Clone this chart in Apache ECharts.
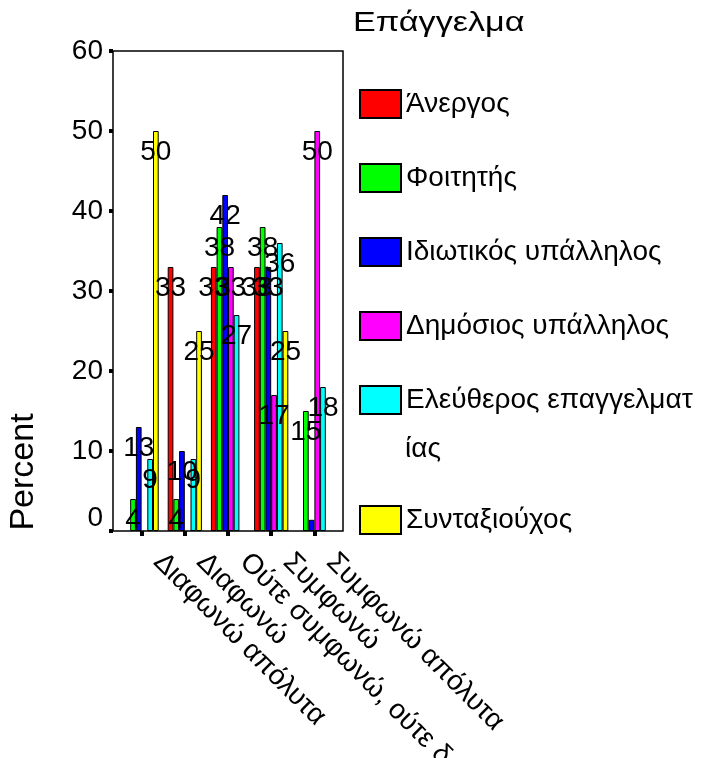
<!DOCTYPE html>
<html>
<head>
<meta charset="utf-8">
<script src="https://cdn.jsdelivr.net/npm/echarts@6/dist/echarts.min.js"></script>
<style>
  html, body { margin: 0; padding: 0; background: #fff; }
  #chart { width: 702px; height: 758px; }
</style>
</head>
<body>
<div id="chart"></div>
<script>
// Answer categories (x axis)
const categories = ['Διαφωνώ απόλυτα', 'Διαφωνώ', 'Ούτε συμφωνώ, ούτε δ', 'Συμφωνώ', 'Συμφωνώ απόλυτα'];

// Occupation groups (legend) and their percentages per category
const occupations = ['Άνεργος', 'Φοιτητής', 'Ιδιωτικός υπάλληλος', 'Δημόσιος υπάλληλος', 'Ελεύθερος επαγγελματίας', 'Συνταξιούχος'];
const anergos    = [null, 33, 33, 33, null];
const foititis   = [4, 4, 38, 38, 15];
const idiotikos  = [13, 10, 42, 33, 1.4];
const dimosios   = [null, null, 33, 17, 50];
const eleftheros = [9, 9, 27, 36, 18];
const syntaxiou  = [50, 25, null, 25, null];
const seriesValues = [anergos, foititis, idiotikos, dimosios, eleftheros, syntaxiou];

// Points whose value label is not printed: [series index, category index]
const unlabeled = [[2, 4]];

// Y axis scale
const yMin = 0, yMax = 60, yStep = 10;

const colors = ['#ff0000', '#00ff00', '#0000ff', '#ff00ff', '#00ffff', '#ffff00'];
const FONT = '"Liberation Sans", Arial, sans-serif';
const LEGEND_FONT = '28px ' + FONT;

// Legend text area: from the text start to near the right edge of the canvas
const LEGEND_LEFT = 359, SWATCH_W = 41, LEGEND_TEXT_X = LEGEND_LEFT + SWATCH_W + 5;
const LEGEND_TEXT_W = 702 - LEGEND_TEXT_X - 7;

// Character-level wrapping of a legend label into lines that fit the text area
function wrapChars(text, font, maxW) {
  const ctx = document.createElement('canvas').getContext('2d');
  ctx.font = font;
  const lines = [];
  let line = '';
  for (const ch of text) {
    if (line && ctx.measureText(line + ch).width > maxW) {
      lines.push(line);
      line = ch;
    } else {
      line += ch;
    }
  }
  if (line) lines.push(line);
  return lines;
}

const wrapped = {};
occupations.forEach(function (n) { wrapped[n] = wrapChars(n, LEGEND_FONT, LEGEND_TEXT_W); });

const series = seriesValues.map(function (vals, si) {
  return {
    name: occupations[si],
    type: 'bar',
    xAxisIndex: 0,
    yAxisIndex: 0,
    barWidth: 5.7,
    barGap: '0%',
    itemStyle: { color: colors[si], borderColor: '#000', borderWidth: 1 },
    label: {
      show: true,
      position: 'insideTop',
      distance: 7,
      color: '#000',
      fontSize: 28,
      fontFamily: FONT,
      formatter: function (p) { return String(Math.round(p.value)); }
    },
    data: vals.map(function (v, ci) {
      if (v == null) return null;
      const hide = unlabeled.some(function (u) { return u[0] === si && u[1] === ci; });
      return hide ? { value: v, label: { show: false } } : v;
    })
  };
});

const legendCommon = {
  orient: 'vertical',
  left: LEGEND_LEFT,
  padding: 0,
  itemWidth: SWATCH_W,
  itemHeight: 28,
  itemGap: 44,
  icon: 'rect',
  selectedMode: false,
  formatter: function (name) { return wrapped[name][0]; },
  textStyle: { fontSize: 28, lineHeight: 28, color: '#000', fontFamily: FONT }
};

// Continuation lines of wrapped legend labels, 58px below the first line
const LINE_STEP = 58;
const continuation = [];
occupations.slice(0, 5).forEach(function (n, i) {
  const rest = wrapped[n].slice(1);
  rest.forEach(function (txt, k) {
    continuation.push({
      type: 'text',
      x: LEGEND_TEXT_X,
      y: 89 + 14 + i * 72 + (k + 1) * LINE_STEP,
      style: { text: txt, fill: '#000', font: LEGEND_FONT, align: 'left', verticalAlign: 'middle',
               textAlign: 'left', textVerticalAlign: 'middle' }
    });
  });
});

const chart = echarts.init(document.getElementById('chart'), null, { renderer: 'canvas' });
chart.setOption({
  animation: false,
  backgroundColor: '#fff',
  grid: [
    { left: 120, right: 366, top: 51, bottom: 227, containLabel: false, outerBoundsMode: 'none' },
    { left: 113, width: 230, top: 51, height: 480, show: true, borderColor: '#000', borderWidth: 1.5,
      backgroundColor: 'transparent', containLabel: false, outerBoundsMode: 'none' }
  ],
  xAxis: [
    {
      type: 'category',
      gridIndex: 0,
      data: categories,
      axisLine: { show: false },
      axisTick: { show: true, alignWithLabel: true, length: 5, lineStyle: { color: '#000', width: 4 } },
      axisLabel: {
        rotate: -45,
        interval: 0,
        margin: 43,
        verticalAlign: 'bottom',
        padding: [0, 0, 9, 0],
        color: '#000',
        fontSize: 28,
        fontFamily: FONT
      }
    },
    { type: 'value', gridIndex: 1, show: false }
  ],
  yAxis: [
    {
      type: 'value',
      gridIndex: 0,
      min: yMin,
      max: yMax,
      interval: yStep,
      offset: 7,
      axisLine: { show: false },
      axisTick: { show: true, length: 4, lineStyle: { color: '#000', width: 4 } },
      splitLine: { show: false },
      axisLabel: {
        margin: 10,
        color: '#000',
        fontSize: 28,
        fontFamily: FONT,
        formatter: function (v) { return v === 0 ? '{z|0}' : String(v); },
        rich: { z: { fontSize: 28, fontFamily: FONT, color: '#000', padding: [0, 0, 26, 0] } }
      }
    },
    { type: 'value', gridIndex: 1, show: false }
  ],
  legend: [
    Object.assign({}, legendCommon, { data: occupations.slice(0, 5), top: 89 }),
    Object.assign({}, legendCommon, { data: occupations.slice(5), top: 505 })
  ],
  graphic: [
    {
      type: 'text',
      x: 353,
      y: 23,
      scaleX: 1.22,
      style: { text: 'Επάγγελμα', fill: '#000', font: '28px ' + FONT, align: 'left', verticalAlign: 'middle',
               textAlign: 'left', textVerticalAlign: 'middle' }
    },
    {
      type: 'text',
      x: 24,
      y: 472,
      rotation: Math.PI / 2,
      style: { text: 'Percent', fill: '#000', font: '34px ' + FONT, align: 'center', verticalAlign: 'middle',
               textAlign: 'center', textVerticalAlign: 'middle' }
    }
  ].concat(continuation),
  series: series
});
</script>
</body>
</html>
